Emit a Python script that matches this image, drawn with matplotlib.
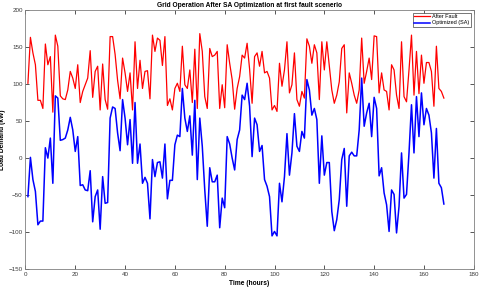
import matplotlib
matplotlib.use('Agg')
import matplotlib.pyplot as plt

hours = list(range(1, 169))

after_fault = [
    101, 163, 142, 126, 78, 78, 67, 154, 126, 137, 62, 166, 151, 84, 80, 79,
    92, 117, 108, 94, 126, 75, 90, 99, 108, 145, 82, 117, 124, 65, 127, 79,
    66, 164, 164, 140, 105, 80, 135, 115, 90, 115, 65, 157, 94, 132, 94, 117,
    118, 80, 166, 144, 162, 159, 125, 164, 71, 80, 65, 94, 101, 90, 151, 99,
    94, 119, 75, 147, 67, 168, 144, 83, 67, 148, 137, 139, 144, 67, 99, 68,
    153, 128, 106, 66, 94, 110, 139, 135, 155, 120, 74, 137, 142, 124, 144, 115,
    117, 108, 65, 71, 63, 128, 97, 119, 157, 88, 99, 142, 79, 70, 90, 81,
    161, 151, 128, 153, 142, 79, 157, 119, 157, 124, 92, 74, 85, 103, 148, 153,
    61, 115, 101, 85, 74, 92, 162, 101, 117, 135, 106, 165, 164, 88, 115, 92,
    90, 65, 126, 119, 85, 67, 157, 83, 76, 119, 166, 85, 144, 87, 139, 101,
    129, 129, 117, 70, 151, 94, 90, 81,
]

optimized_sa = [
    -52, 1, -29, -45, -90, -85, -85, 14, 0, 27, -34, 84, 81, 24, 25, 27,
    38, 55, 38, 9, 29, -37, -36, -43, -44, -17, -86, -52, -43, -96, -25, -61,
    -60, 54, 69, 67, 34, 10, 79, 54, 18, 52, -7, 75, -7, 19, -34, -26,
    -34, -82, -2, -25, -6, -5, -27, 19, -55, -30, -30, 18, 31, 29, 94, 54,
    36, 57, 4, 78, -29, 54, 16, -43, -92, -13, -32, -32, -23, -94, -54, -67,
    29, 19, 0, -16, 25, 38, 85, 79, 101, 70, 2, 54, 45, 9, 17, -29,
    -38, -52, -105, -99, -105, -34, -59, -25, 33, -23, 7, 60, 16, 9, 36, 27,
    106, 92, 58, 67, 52, -34, 30, -23, -6, -6, -72, -98, -83, -56, -2, 13,
    -65, 3, 8, 3, 3, 38, 108, 43, 61, 74, 29, 82, 67, -24, -13, -47,
    -63, -99, -43, -49, -101, -65, 7, -54, -49, 7, 72, 7, 83, 29, 88, 45,
    67, 58, 34, -27, 40, -34, -40, -62,
]

plt.rcParams['font.family'] = ['Liberation Sans', 'DejaVu Sans']
grey = '#3a3a3a'

fig = plt.figure(figsize=(4.8, 2.92), dpi=100)
ax = fig.add_axes([0.053, 0.078, 0.934, 0.888])

ax.plot(hours, after_fault, color='#ff0000', linewidth=0.9, label='After Fault')
ax.plot(hours, optimized_sa, color='#0000ff', linewidth=1.1, label='Optimized (SA)')

ax.set_xlim(0, 180)
ax.set_ylim(-150, 200)
ax.set_xticks(range(0, 181, 20))
ax.set_yticks(range(-150, 201, 50))
ax.tick_params(direction='in', length=3, width=0.6, top=True, right=True,
               labelsize=4.5, colors=grey, pad=2)
for s in ax.spines.values():
    s.set_color('#808080')
    s.set_linewidth(0.6)

ax.set_title('Grid Operation After SA Optimization at first fault scenerio',
             fontsize=4.8, fontweight='bold', pad=2)
ax.set_xlabel('Time (hours)', fontsize=4.8, fontweight='bold', labelpad=2)
ax.set_ylabel('Load Demand (kW)', fontsize=4.8, fontweight='bold', labelpad=2)

leg = ax.legend(loc='upper right', fontsize=4, handlelength=2.8,
                borderpad=0.3, labelspacing=0.2, handletextpad=0.4,
                fancybox=False, framealpha=1)
leg.get_frame().set_edgecolor('#404040')
leg.get_frame().set_linewidth(0.5)

fig.savefig('out.png', dpi=100)
